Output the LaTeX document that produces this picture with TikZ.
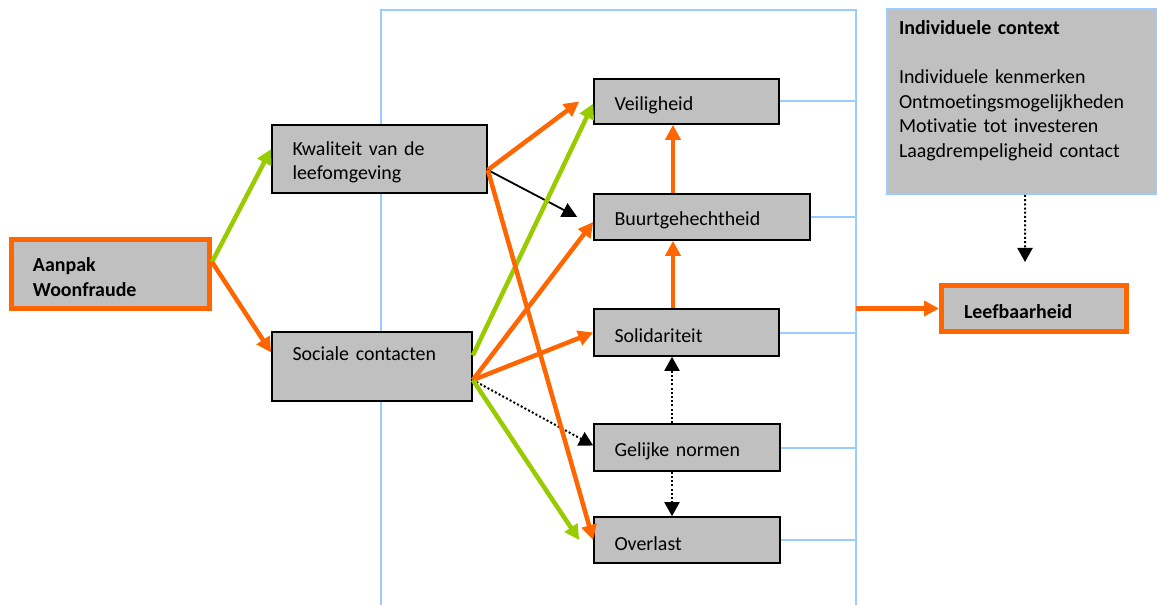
\documentclass[tikz,border=0pt]{standalone}
\usepackage{fontspec}
\setmainfont{Carlito}[Ligatures=NoCommon]
\usetikzlibrary{arrows.meta,calc}
\definecolor{org}{HTML}{FF6600}
\definecolor{grn}{HTML}{99CC00}
\definecolor{boxg}{HTML}{C0C0C0}
\definecolor{lblue}{HTML}{99CCFF}
\newcommand\tstrut{\rule{0pt}{20.5bp}}
\begin{document}
\begin{tikzpicture}[x=1bp,y=-1bp,
  font=\fontsize{20}{24.7}\selectfont,
  box/.style={draw=black,fill=boxg,line width=1.6bp,align=left,inner xsep=20.5bp,inner ysep=0pt,execute at begin node=\tstrut},
  hbox/.style={draw=org,fill=boxg,line width=5bp,align=left,inner ysep=0pt,font=\fontsize{20}{24.7}\selectfont\bfseries,execute at begin node=\tstrut},
  cbox/.style={draw=lblue,fill=boxg,line width=1.8bp,align=left,inner xsep=12bp,inner ysep=0pt,execute at begin node=\tstrut},
  oarr/.style={draw=org,line width=4.5bp,-{Triangle[length=15bp,width=15bp]}},
  garr/.style={draw=grn,line width=4.5bp,-{Triangle[length=15bp,width=15bp]}},
  barr/.style={draw=black,line width=1.8bp,-{Triangle[length=15bp,width=15bp]}},
  darr/.style={draw=black,line width=2bp,dash pattern=on 2bp off 2.2bp,-{Triangle[length=14bp,width=15bp]}},
  bl/.style={draw=lblue,line width=2bp}
]
\useasboundingbox (0,0) rectangle (1157,605);
% frame
\coordinate (frL) at (381,10);
\coordinate (frR) at (856,10);
\draw[bl] (381,606) -- (frL) -- (frR) -- (856,606);

% nodes
\node[hbox,minimum width=198bp,minimum height=69bp,inner xsep=21.5bp,text width=155bp] (aan) at (110.5,274) {Aanpak\\Woonfraude};
\node[box,minimum height=68bp,text width=174bp] (kw) at (379.5,159) {Kwaliteit van de\\leefomgeving};
\node[box,minimum height=69bp,text width=159bp] (soc) at (372,366.5) {Sociale contacten\\\strut};
\node[box,minimum height=45bp,text width=144bp] (vei) at (686.5,101.5) {Veiligheid};
\node[box,minimum height=46bp,text width=175bp] (buu) at (702,217) {Buurtgehechtheid};
\node[box,minimum height=47bp,text width=144bp] (sol) at (686.5,332.5) {Solidariteit};
\node[box,minimum height=47bp,text width=145bp] (gel) at (687,447.5) {Gelijke normen};
\node[box,minimum height=46bp,text width=145bp] (ove) at (687,540) {Overlast};
\node[cbox,minimum height=185bp,text width=246bp] (ctx) at (1022,101.5) {\textbf{Individuele context}\\\strut\\Individuele kenmerken\\Ontmoetingsmogelijkheden\\Motivatie tot investeren\\Laagdrempeligheid contact\\\strut};
\node[hbox,minimum width=185bp,minimum height=46bp,inner xsep=22.5bp,text width=140bp] (lee) at (1034,308.5) {Leefbaarheid};

% blue links to frame
\foreach \n in {vei,buu,sol,gel,ove}
  \draw[bl] (\n.east) -- (\n.east -| frR);

% connectors
\coordinate (vx) at (673,0);
\coordinate (vx2) at (672,0);
\coordinate (ctxend) at (1025,262);

\draw[garr] ([yshift=12bp]aan.east) -- ([yshift=10bp]kw.west);
\draw[oarr] ([yshift=12bp]aan.east) -- ([yshift=14bp]soc.west);

\draw[oarr] ([yshift=-11bp]kw.east) -- ([xshift=-14bp]vei.west);
\draw[barr] ([yshift=-11bp]kw.east) -- ([xshift=-16bp]buu.west);

\draw[garr] ([yshift=11bp]soc.east) -- ([yshift=-2bp]vei.west);
\draw[oarr] ([yshift=-13.5bp]soc.east) -- ([yshift=-5bp]buu.west);
\draw[oarr] ([yshift=-13.5bp]soc.east) -- (sol.west);
\draw[darr] ([yshift=-13.5bp]soc.east) -- ([yshift=2bp]gel.west);
\draw[garr] ([yshift=-13.5bp]soc.east) -- ([xshift=-14bp]ove.west);
\draw[oarr] ([yshift=-11bp]kw.east) -- (ove.west);

\draw[oarr] (buu.north -| vx) -- (vei.south -| vx);
\draw[oarr] (sol.north -| vx) -- (buu.south -| vx);
\draw[darr] (gel.north -| vx2) -- (sol.south -| vx2);
\draw[darr] (gel.south -| vx2) -- (ove.north -| vx2);

\draw[oarr] (lee.west -| frR) -- (lee.west);
\draw[darr] ([xshift=3bp]ctx.south) -- (ctxend);
\end{tikzpicture}
\end{document}
